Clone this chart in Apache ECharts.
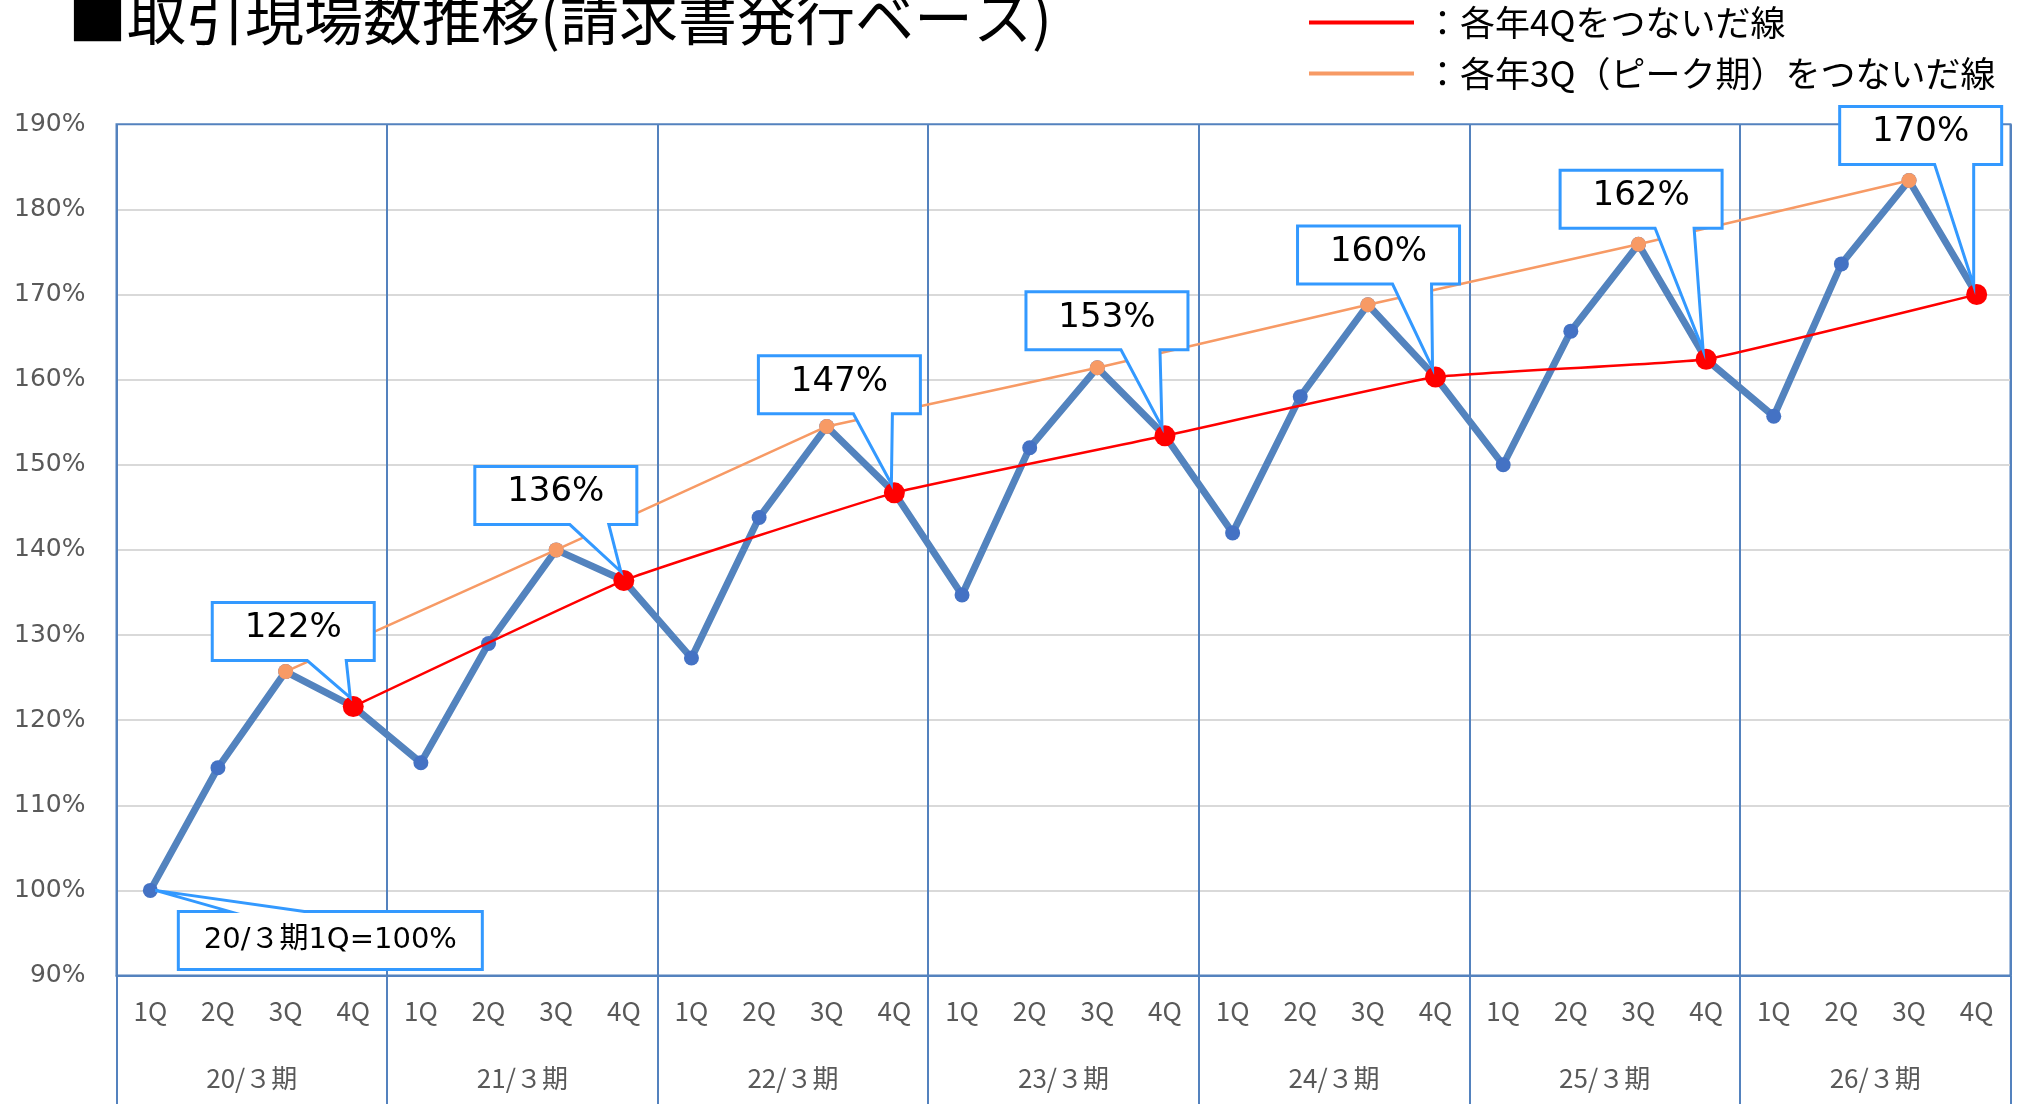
<!DOCTYPE html>
<html>
<head>
<meta charset="utf-8">
<script src="https://cdn.jsdelivr.net/npm/echarts@6/dist/echarts.min.js"></script>
<style>
  html, body { margin: 0; padding: 0; background: #fff; }
  #chart { width: 2029px; height: 1104px; }
</style>
</head>
<body>
<div id="chart"></div>
<script>
// 期（年度）と四半期
const years = ['20/３期', '21/３期', '22/３期', '23/３期', '24/３期', '25/３期', '26/３期'];
const quarters = ['1Q', '2Q', '3Q', '4Q'];
// 20/3期1Q = 100% とした取引現場数（%）
const ratio = [
    100.0, 114.4, 125.7, 121.6,
    115.0, 129.0, 140.0, 136.4,
    127.3, 143.8, 154.5, 146.7,
    134.7, 152.0, 161.4, 153.4,
    142.0, 158.0, 168.8, 160.3,
    150.0, 165.7, 175.9, 162.4,
    155.7, 173.6, 183.4, 170.0
];
const lineNames = ['：各年4Qをつないだ線', '：各年3Q（ピーク期）をつないだ線'];
const yMin = 90, yMax = 190, yStep = 10;

// 吹き出しの配置（4Qの点からのずれ）: [left, top]
const calloutOffsets = [
    [-141, -104], [-149, -114], [-136, -137], [-139, -144],
    [-138, -151], [-146, -189], [-137, -188]
];

const AXIS_BLUE = '#5482BE';
const CALLOUT_BLUE = '#3399FF';
const JP = '"Noto Sans CJK JP"';

let qLabels = [];
years.forEach(function () { qLabels = qLabels.concat(quarters); });

// 4Q / 3Q だけ残した系列
function pickQuarter(q) {
    return ratio.map(function (v, i) { return i % 4 === q ? v : '-'; });
}
let q4Points = [];
ratio.forEach(function (v, i) { if (i % 4 === 3) q4Points.push([i, v]); });

function calloutPoints(p, box, base, tip, side) {
    let x0 = p[0] + box[0], y0 = p[1] + box[1];
    let x1 = x0 + box[2], y1 = y0 + box[3];
    let tx = p[0] + tip[0], ty = p[1] + tip[1];
    let b0 = x0 + base[0], b1 = x0 + base[1];
    if (side === 'bottom') {
        return [[x0, y0], [x1, y0], [x1, y1], [b1, y1], [tx, ty], [b0, y1], [x0, y1]];
    }
    return [[x0, y0], [b0, y0], [tx, ty], [b1, y0], [x1, y0], [x1, y1], [x0, y1]];
}

function drawCallout(p, box, base, tip, side, text, font, textDy) {
    return {
        type: 'group',
        children: [
            {
                type: 'polygon',
                shape: { points: calloutPoints(p, box, base, tip, side) },
                style: { fill: '#fff', stroke: CALLOUT_BLUE, lineWidth: 3, lineJoin: 'miter' }
            },
            {
                type: 'text',
                style: {
                    text: text,
                    x: p[0] + box[0] + box[2] / 2,
                    y: p[1] + box[1] + box[3] / 2 + textDy,
                    align: 'center',
                    verticalAlign: 'middle',
                    fill: '#000',
                    font: font
                }
            }
        ]
    };
}

let myChart = echarts.init(document.getElementById('chart'));

let option = {
    animation: false,
    backgroundColor: '#fff',
    title: {
        text: '■取引現場数推移(請求書発行ベース)',
        left: 68,
        top: -12,
        padding: 0,
        textStyle: { fontFamily: JP, fontSize: 59, fontWeight: 'normal', color: '#000' }
    },
    legend: {
        orient: 'vertical',
        left: 1309,
        top: 5,
        padding: 0,
        icon: 'rect',
        itemWidth: 105,
        itemHeight: 4,
        itemGap: 16,
        data: lineNames,
        textStyle: { fontFamily: JP, fontSize: 35, lineHeight: 35, color: '#000', padding: [0, 0, 0, 6] }
    },
    grid: {
        left: 116.5,
        right: 18.5,
        top: 124.3,
        bottom: 128.5,
        show: true,
        borderColor: AXIS_BLUE,
        borderWidth: 2
    },
    xAxis: [
        {
            type: 'category',
            data: qLabels,
            axisLine: { show: false },
            axisTick: { show: false },
            axisLabel: {
                interval: 0, margin: 23, fontSize: 26, color: '#595959', fontFamily: JP
            }
        },
        {
            type: 'category',
            data: years,
            position: 'bottom',
            z: 1,
            axisLine: { show: true, lineStyle: { color: AXIS_BLUE, width: 2 } },
            axisTick: { show: true, interval: 0, length: 129, lineStyle: { color: AXIS_BLUE, width: 2 } },
            axisLabel: {
                interval: 0, margin: 90, fontSize: 26, color: '#595959', fontFamily: JP
            },
            splitLine: { show: true, interval: 0, lineStyle: { color: AXIS_BLUE, width: 2 } }
        }
    ],
    yAxis: {
        type: 'value',
        min: yMin,
        max: yMax,
        interval: yStep,
        axisLine: { show: false },
        axisTick: { show: false },
        axisLabel: {
            formatter: '{value}%', margin: 31, fontSize: 25, color: '#595959', fontFamily: '"DejaVu Sans"'
        },
        splitLine: {
            showMinLine: false,
            showMaxLine: false,
            lineStyle: { color: '#D9D9D9', width: 2 }
        }
    },
    series: [
        {
            name: '取引現場数',
            type: 'line',
            data: ratio,
            z: 2,
            symbol: 'circle',
            symbolSize: 15,
            itemStyle: { color: '#4472C4' },
            lineStyle: { color: '#5383BE', width: 7 }
        },
        {
            name: lineNames[1],
            type: 'line',
            data: pickQuarter(2),
            connectNulls: true,
            z: 3,
            symbol: 'circle',
            symbolSize: 15,
            itemStyle: { color: '#F79A65' },
            lineStyle: { color: '#F79A65', width: 2.5 }
        },
        {
            name: lineNames[0],
            type: 'line',
            data: pickQuarter(3),
            connectNulls: true,
            smooth: 0.1,
            z: 4,
            symbol: 'circle',
            symbolSize: 21,
            itemStyle: { color: '#FF0000' },
            lineStyle: { color: '#FF0000', width: 2.5 }
        },
        {
            // 各年4Qの吹き出し
            type: 'custom',
            data: q4Points,
            clip: false,
            z: 5,
            silent: true,
            renderItem: function (params, api) {
                let v = api.value(1);
                let p = api.coord([api.value(0), v]);
                let off = calloutOffsets[params.dataIndex];
                return drawCallout(p, [off[0], off[1], 162, 58], [95, 134], [-3, -9], 'bottom',
                    Math.round(v) + '%', '34px "DejaVu Sans"', -3);
            }
        },
        {
            // 基準点の吹き出し
            type: 'custom',
            data: [[0, ratio[0]]],
            clip: false,
            z: 5,
            silent: true,
            renderItem: function (params, api) {
                let p = api.coord([api.value(0), api.value(1)]);
                let text = years[0] + quarters[0] + '=' + Math.round(api.value(1)) + '%';
                return drawCallout(p, [28, 21, 304, 58], [51, 126], [5, 0], 'top',
                    text, '29px "DejaVu Sans", "Noto Sans CJK JP"', 0);
            }
        }
    ]
};

myChart.setOption(option);
</script>
</body>
</html>
